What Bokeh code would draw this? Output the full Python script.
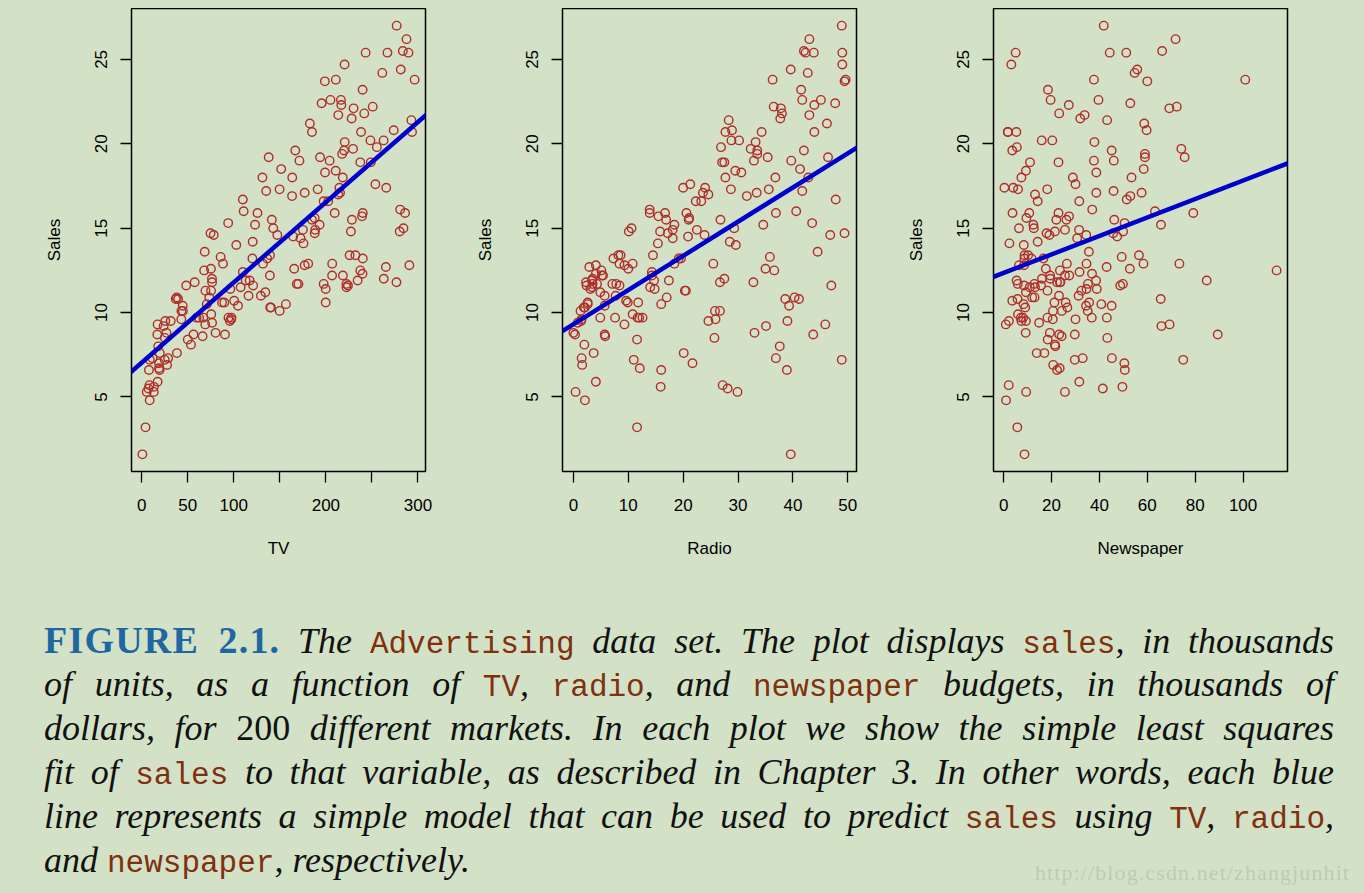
import numpy as np
from bokeh.plotting import figure
from bokeh.models import Range1d, Slope, Div, FixedTicker
from bokeh.layouts import row, column
from bokeh.embed import file_html
from bokeh.resources import INLINE

BG = "#D3E2C7"
PT = "#B22D2A"
LINE = "#0000CC"
BLUE_T = "#1F67A0"
BROWN = "#80300E"

tv = [230.1, 44.5, 17.2, 151.5, 180.8, 8.7, 57.5, 120.2, 8.6, 199.8,
      66.1, 214.7, 23.8, 97.5, 204.1, 195.4, 67.8, 281.4, 69.2, 147.3,
      218.4, 237.4, 13.2, 228.3, 62.3, 262.9, 142.9, 240.1, 248.8, 70.6,
      292.9, 112.9, 97.2, 265.6, 95.7, 290.7, 266.9, 74.7, 43.1, 228.0,
      202.5, 177.0, 293.6, 206.9, 25.1, 175.1, 89.7, 239.9, 227.2, 66.9,
      199.8, 100.4, 216.4, 182.6, 262.7, 198.9, 7.3, 136.2, 210.8, 210.7,
      53.5, 261.3, 239.3, 102.7, 131.1, 69.0, 31.5, 139.3, 237.4, 216.8,
      199.1, 109.8, 26.8, 129.4, 213.4, 16.9, 27.5, 120.5, 5.4, 116.0,
      76.4, 239.8, 75.3, 68.4, 213.5, 193.2, 76.3, 110.7, 88.3, 109.8,
      134.3, 28.6, 217.7, 250.9, 107.4, 163.3, 197.6, 184.9, 289.7, 135.2,
      222.4, 296.4, 280.2, 187.9, 238.2, 137.9, 25.0, 90.4, 13.1, 255.4,
      225.8, 241.7, 175.7, 209.6, 78.2, 75.1, 139.2, 76.4, 125.7, 19.4,
      141.3, 18.8, 224.0, 123.1, 229.5, 87.2, 7.8, 80.2, 220.3, 59.6,
      0.7, 265.2, 8.4, 219.8, 36.9, 48.3, 25.6, 273.7, 43.0, 184.9,
      73.4, 193.7, 220.5, 104.6, 96.2, 140.3, 240.1, 243.2, 38.0, 44.7,
      280.7, 121.0, 197.6, 171.3, 187.8, 4.1, 93.9, 149.8, 11.7, 131.7,
      172.5, 85.7, 188.4, 163.5, 117.2, 234.5, 17.9, 206.8, 215.4, 284.3,
      50.0, 164.5, 19.6, 168.4, 222.4, 276.9, 248.4, 170.2, 276.7, 165.6,
      156.6, 218.5, 56.2, 287.6, 253.8, 205.0, 139.5, 191.1, 286.0, 18.7,
      39.5, 75.5, 17.2, 166.8, 149.7, 38.2, 94.2, 177.0, 283.6, 232.1]

radio = [37.8, 39.3, 45.9, 41.3, 10.8, 48.9, 32.8, 19.6, 2.1, 2.6,
         5.8, 24.0, 35.1, 7.6, 32.9, 47.7, 36.6, 39.6, 20.5, 23.9,
         27.7, 5.1, 15.9, 16.9, 12.6, 3.5, 29.3, 16.7, 27.1, 16.0,
         28.3, 17.4, 1.5, 20.0, 1.4, 4.1, 43.8, 49.4, 26.7, 37.7,
         22.3, 33.4, 27.7, 8.4, 25.7, 22.5, 9.9, 41.5, 15.8, 11.7,
         3.1, 9.6, 41.7, 46.2, 28.8, 49.4, 28.1, 19.2, 49.6, 29.5,
         2.0, 42.7, 15.5, 29.6, 42.8, 9.3, 24.6, 14.5, 27.5, 43.9,
         30.6, 14.3, 33.0, 5.7, 24.6, 43.7, 1.6, 28.5, 29.9, 7.7,
         26.7, 4.1, 20.3, 44.5, 43.0, 18.4, 27.5, 40.6, 25.5, 47.8,
         4.9, 1.5, 33.5, 36.5, 14.0, 31.6, 3.5, 21.0, 42.3, 41.7,
         4.3, 36.3, 10.1, 17.2, 34.3, 46.4, 11.0, 0.3, 0.4, 26.9,
         8.2, 38.0, 15.4, 20.6, 46.8, 35.0, 14.3, 0.8, 36.9, 16.0,
         26.8, 21.7, 2.4, 34.6, 32.3, 11.8, 38.9, 0.0, 49.0, 12.0,
         39.6, 2.9, 27.2, 33.5, 38.6, 47.0, 39.0, 28.9, 25.9, 43.9,
         17.0, 35.4, 33.2, 5.7, 14.8, 1.9, 7.3, 49.0, 40.3, 25.8,
         13.9, 8.4, 23.3, 39.7, 21.1, 11.6, 43.5, 1.3, 36.9, 18.4,
         18.1, 35.8, 18.1, 36.8, 14.7, 3.4, 37.6, 5.2, 23.6, 10.6,
         11.6, 20.9, 20.1, 7.1, 3.4, 48.9, 30.2, 7.8, 2.3, 10.0,
         2.6, 5.4, 5.7, 43.0, 21.3, 45.1, 2.1, 28.7, 13.9, 12.1,
         41.1, 10.8, 4.1, 42.0, 35.6, 3.7, 4.9, 9.3, 42.0, 8.6]

newspaper = [69.2, 45.1, 69.3, 58.5, 58.4, 75.0, 23.5, 11.6, 1.0, 21.2,
             24.2, 4.0, 65.9, 7.2, 46.0, 52.9, 114.0, 55.8, 18.3, 19.1,
             53.4, 23.5, 49.6, 26.2, 18.3, 19.5, 12.6, 22.9, 22.9, 40.8,
             43.2, 38.6, 30.0, 0.3, 7.4, 8.5, 5.0, 45.7, 35.1, 32.0,
             31.6, 38.7, 1.8, 26.4, 43.3, 31.5, 35.7, 18.5, 49.9, 36.8,
             34.6, 3.6, 39.6, 58.7, 15.9, 60.0, 41.4, 16.6, 37.7, 9.3,
             21.4, 54.7, 27.3, 8.4, 28.9, 0.9, 2.2, 10.2, 11.0, 27.2,
             38.7, 31.7, 19.3, 31.3, 13.1, 89.4, 20.7, 14.2, 9.4, 23.1,
             22.3, 36.9, 32.5, 35.6, 33.8, 65.7, 16.0, 63.2, 73.4, 51.4,
             9.3, 33.0, 59.0, 72.3, 10.9, 52.9, 5.9, 22.0, 51.2, 45.9,
             49.8, 100.9, 21.4, 17.9, 5.3, 59.0, 29.7, 23.2, 25.6, 5.5,
             56.5, 23.2, 2.4, 10.7, 34.5, 52.7, 25.6, 14.8, 79.2, 22.3,
             46.2, 50.4, 15.6, 12.4, 74.2, 25.9, 50.6, 9.2, 3.2, 43.1,
             8.7, 43.0, 2.1, 45.1, 65.6, 8.5, 9.3, 59.7, 20.5, 1.7,
             12.9, 75.6, 37.9, 34.4, 38.9, 9.0, 8.7, 44.3, 11.9, 20.6,
             37.0, 48.7, 14.2, 37.7, 9.5, 5.7, 50.5, 24.3, 45.2, 34.6,
             30.7, 49.3, 25.6, 7.4, 5.4, 84.8, 21.6, 19.4, 57.6, 6.4,
             18.4, 47.4, 17.0, 12.8, 13.1, 41.8, 20.3, 35.2, 23.7, 17.6,
             8.3, 27.4, 29.7, 71.8, 30.0, 19.6, 26.6, 18.2, 3.7, 23.4,
             5.8, 6.0, 31.6, 3.6, 6.0, 13.8, 8.1, 6.4, 66.2, 8.7]

sales = [22.1, 10.4, 9.3, 18.5, 12.9, 7.2, 11.8, 13.2, 4.8, 10.6,
         8.6, 17.4, 9.2, 9.7, 19.0, 22.4, 12.5, 24.4, 11.3, 14.6,
         18.0, 12.5, 5.6, 15.5, 9.7, 12.0, 15.0, 15.9, 18.9, 10.5,
         21.4, 11.9, 9.6, 17.4, 9.5, 12.8, 25.4, 14.7, 10.1, 21.5,
         16.6, 17.1, 20.7, 12.9, 8.5, 14.9, 10.6, 23.2, 14.8, 9.7,
         11.4, 10.7, 22.6, 21.2, 20.2, 23.7, 5.5, 13.2, 23.8, 18.4,
         8.1, 24.2, 15.7, 14.0, 18.0, 9.3, 9.5, 13.4, 18.9, 22.3,
         18.3, 12.4, 8.8, 11.0, 17.0, 8.7, 6.9, 14.2, 5.3, 11.0,
         11.8, 12.3, 11.3, 13.6, 21.7, 15.2, 12.0, 16.0, 12.9, 16.7,
         11.2, 7.3, 19.4, 22.2, 11.5, 16.9, 11.7, 15.5, 25.4, 17.2,
         11.7, 23.8, 14.8, 14.7, 20.7, 19.2, 7.2, 8.7, 5.3, 19.8,
         13.4, 21.8, 14.1, 15.9, 14.6, 12.6, 12.2, 9.4, 15.9, 6.6,
         15.5, 7.0, 11.6, 15.2, 19.7, 10.6, 6.6, 8.8, 24.7, 9.7,
         1.6, 12.7, 5.7, 19.6, 10.8, 11.6, 9.5, 20.8, 9.6, 20.7,
         10.9, 19.2, 20.1, 10.4, 11.4, 10.3, 13.2, 25.4, 10.9, 10.1,
         16.1, 11.6, 16.6, 19.0, 15.6, 3.2, 15.3, 10.1, 7.3, 12.9,
         14.4, 13.3, 14.9, 18.0, 11.9, 11.9, 8.0, 12.2, 17.1, 15.0,
         8.4, 14.5, 7.6, 11.7, 11.5, 27.0, 20.2, 11.7, 11.8, 12.6,
         10.5, 12.2, 8.7, 26.2, 17.6, 22.6, 10.3, 17.3, 15.9, 6.7,
         10.8, 9.9, 5.9, 19.6, 17.3, 7.6, 9.7, 12.8, 25.5, 13.4]

y_ticks = [5, 10, 15, 20, 25]
tv_ticks = [0, 50, 100, 150, 200, 250, 300]
tv_hidden = [150, 250]
radio_ticks = [0, 10, 20, 30, 40, 50]
news_ticks = [0, 20, 40, 60, 80, 100]
x_names = ["TV", "Radio", "Newspaper"]
y_name = "Sales"
watermark = "http://blog.csdn.net/zhangjunhit"


def rrange(vals):
    lo, hi = min(vals), max(vals)
    d = (hi - lo) * 0.04
    return Range1d(lo - d, hi + d)


def panel(x, xlabel, ticks, hidden):
    p = figure(width=431, height=571, output_backend="svg", toolbar_location=None,
               min_border_left=123, min_border_right=14, min_border_top=0,
               min_border_bottom=108, x_range=rrange(x), y_range=rrange(sales))
    p.background_fill_color = BG
    p.border_fill_color = BG
    p.outline_line_color = "black"
    p.outline_line_width = 1.5
    p.grid.visible = False
    p.scatter(x, sales, marker="circle", size=8.5, fill_color=None,
              line_color=PT, line_width=1.4)
    m, b = np.polyfit(np.array(x), np.array(sales), 1)
    p.add_layout(Slope(gradient=m, y_intercept=b, line_color=LINE, line_width=4.5))

    for ax in (p.xaxis[0], p.yaxis[0]):
        ax.axis_line_color = None
        ax.major_tick_line_color = "black"
        ax.major_tick_line_width = 1.3
        ax.major_tick_out = 11
        ax.major_tick_in = 0
        ax.minor_tick_line_color = None
        ax.major_label_text_font = "Liberation Sans"
        ax.major_label_text_font_size = "17px"
        ax.major_label_text_color = "black"
        ax.axis_label_text_font = "Liberation Sans"
        ax.axis_label_text_font_size = "17px"
        ax.axis_label_text_font_style = "normal"
        ax.axis_label_text_color = "black"
    p.xaxis[0].major_label_standoff = 16
    p.xaxis[0].axis_label_standoff = 25
    p.yaxis[0].major_label_standoff = 13
    p.yaxis[0].axis_label_standoff = 29
    p.xaxis[0].ticker = FixedTicker(ticks=ticks)
    p.xaxis[0].major_label_overrides = {t: "" for t in hidden}
    p.xaxis[0].axis_label = xlabel
    p.yaxis[0].ticker = FixedTicker(ticks=y_ticks)
    p.yaxis[0].major_label_orientation = "vertical"
    p.yaxis[0].axis_label = y_name
    return p


p1 = panel(tv, x_names[0], tv_ticks, tv_hidden)
p2 = panel(radio, x_names[1], radio_ticks, [])
p3 = panel(newspaper, x_names[2], news_ticks, [])


def code(s):
    return ('<span style="font-family:\'Liberation Mono\',monospace;font-style:normal;'
            f'font-size:31px;color:{BROWN}">{s}</span>')


fig_label = (f'<span style="font-family:\'Liberation Serif\',serif;font-style:normal;font-weight:bold;'
             f'color:{BLUE_T};font-size:38px;letter-spacing:1.2px">FIGURE 2.1.</span>')

caption_lines = [
    f'{fig_label} The {code("Advertising")} data set. The plot displays {code("sales")}, in thousands',
    f'of units, as a function of {code("TV")}, {code("radio")}, and {code("newspaper")} budgets, in thousands of',
    'dollars, for <span style="font-style:normal">200</span> different markets. In each plot we show the simple least squares',
    f'fit of {code("sales")} to that variable, as described in Chapter 3. In other words, each blue',
    f'line represents a simple model that can be used to predict {code("sales")} using {code("TV")}, {code("radio")},',
    f'and {code("newspaper")}, respectively.',
]

body = ""
for i, ln in enumerate(caption_lines):
    last = i == len(caption_lines) - 1
    al = "left" if last else "justify"
    body += (f'<div style="text-align:{al};text-align-last:{al};height:44px;line-height:44px;'
             f'white-space:nowrap;">{ln}</div>')

html_caption = (
    '<div style="position:relative;width:1340px;height:303px;padding:0;margin:0;'
    'font-family:\'Liberation Serif\',serif;font-style:italic;font-size:36px;color:#111;">'
    f'<div style="position:absolute;left:36px;top:39px;width:1290px;">{body}</div>'
    f'<div style="position:absolute;left:1027px;top:278px;font-family:\'Liberation Serif\',serif;'
    f'font-style:normal;font-size:22px;letter-spacing:1.1px;color:#BFCAB6;">{watermark}</div>'
    '</div>'
)

cap = Div(text=html_caption, width=1340, height=303, margin=0)

layout = column(row(p1, p2, p3, spacing=0), cap, spacing=0)
layout.margin = 0

html = file_html(layout, INLINE)
html = html.replace("</head>", f"<style>html,body{{background:{BG};margin:0;}} body{{margin:8px;}}</style></head>", 1)
open("out.html", "w").write(html)
